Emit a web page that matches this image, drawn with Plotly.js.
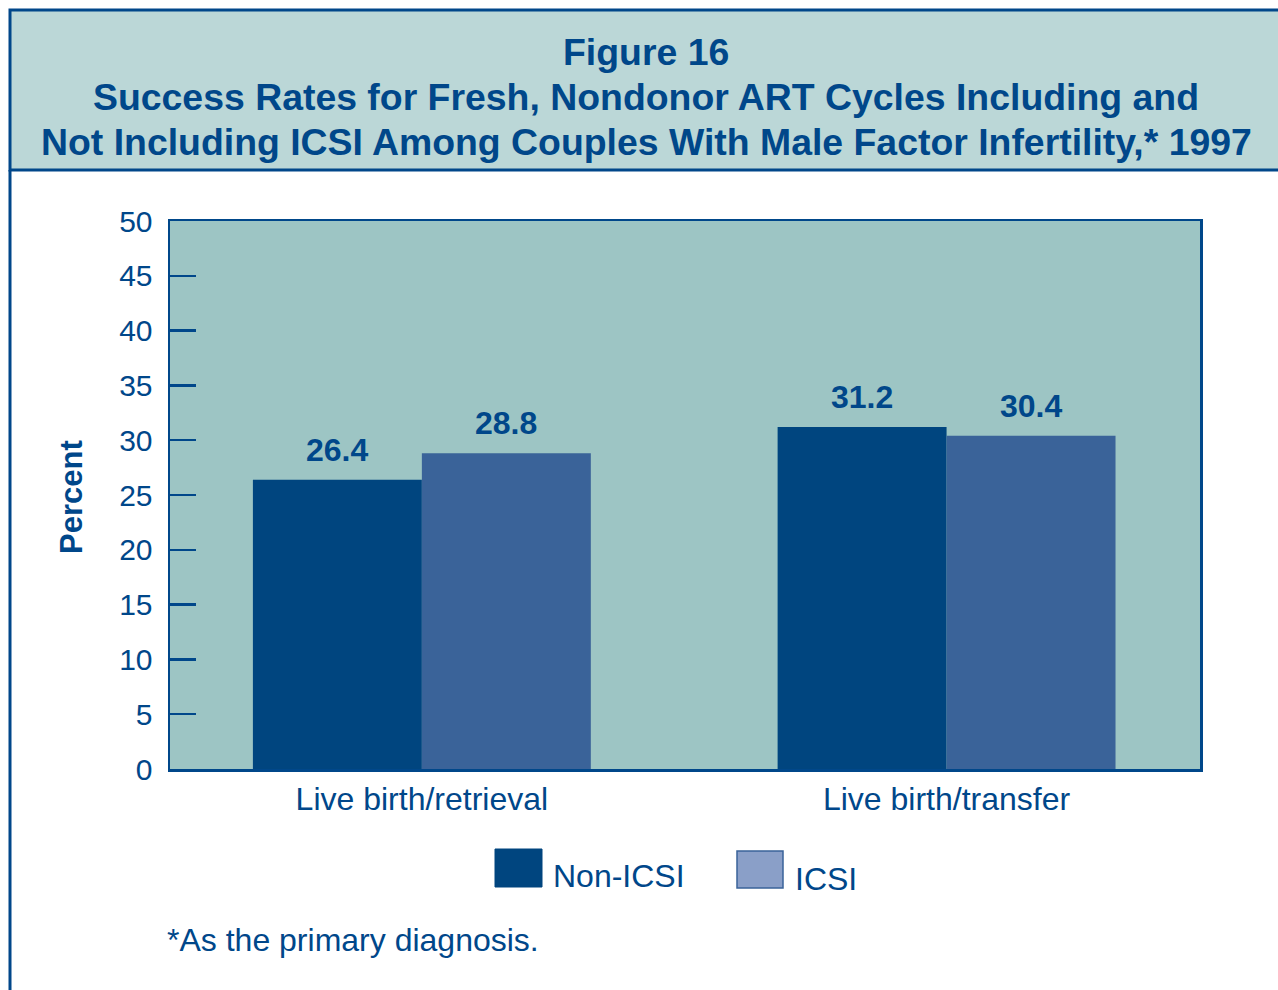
<!DOCTYPE html>
<html>
<head>
<meta charset="utf-8">
<script src="https://cdn.plot.ly/plotly-3.0.1.min.js"></script>
<style>html,body{margin:0;padding:0;background:#fff;}#chart{width:1278px;height:990px;}</style>
</head>
<body>
<div id="chart"></div>
<script>
const categories = ["Live birth/retrieval", "Live birth/transfer"];
const seriesNames = ["Non-ICSI", "ICSI"];
const nonIcsi = [26.4, 31.2];
const icsi = [28.8, 30.4];
const yTicks = [0, 5, 10, 15, 20, 25, 30, 35, 40, 45, 50];
const titleLines = ["Figure 16", "Success Rates for Fresh, Nondonor ART Cycles Including and", "Not Including ICSI Among Couples With Male Factor Infertility,* 1997"];
const footnote = "*As the primary diagnosis.";
const yTitle = "Percent";

const TXT = "#00478a";
const FONT = "Liberation Sans, Arial, sans-serif";
const barColors = ["#00457f", "#3a6399"];
const legendColors = ["#00457f", "#8a9fc8"];

// plot area geometry in px
const L = 170, R = 78, T = 221, B = 221, W = 1278, H = 990;
const pw = W - L - R, ph = H - T - B;
const px = v => (v - L) / pw;
const py = v => (H - B - v) / ph;

const series = [nonIcsi, icsi];
const traces = series.map((vals, k) => ({
  type: "bar",
  name: seriesNames[k],
  x: categories,
  y: vals,
  marker: {color: barColors[k], line: {width: 0}},
  showlegend: false,
  hoverinfo: "skip"
}));

const barOffset = 0.161;
const annotations = [];
series.forEach((vals, k) => {
  vals.forEach((v, i) => {
    annotations.push({
      xref: "x", yref: "y", x: i + (k === 0 ? -barOffset : barOffset), y: v,
      text: "<b>" + v.toFixed(1) + "</b>", showarrow: false,
      yanchor: "bottom", yshift: 10,
      font: {family: FONT, size: 32, color: TXT}
    });
  });
});

// title lines
const titleY = [52, 97, 142];
titleLines.forEach((t, i) => {
  annotations.push({
    xref: "paper", yref: "paper", x: px(646), y: py(titleY[i]),
    text: "<b>" + t + "</b>", showarrow: false, xanchor: "center", yanchor: "middle",
    font: {family: FONT, size: 37.4, color: TXT}
  });
});

annotations.push({
  xref: "paper", yref: "paper", x: px(72), y: py(497), textangle: -90,
  text: "<b>" + yTitle + "</b>", showarrow: false, xanchor: "center", yanchor: "middle",
  font: {family: FONT, size: 31, color: TXT}
});

// legend text
const legendText = [{x: 551, y: 876}, {x: 793, y: 879}];
seriesNames.forEach((n, k) => {
  annotations.push({
    xref: "paper", yref: "paper", x: px(legendText[k].x), y: py(legendText[k].y),
    text: n, showarrow: false, xanchor: "left", yanchor: "middle",
    font: {family: FONT, size: 32, color: TXT}
  });
});

annotations.push({
  xref: "paper", yref: "paper", x: px(165), y: py(940),
  text: footnote, showarrow: false, xanchor: "left", yanchor: "middle",
  font: {family: FONT, size: 32, color: TXT}
});

const shapes = [
  // title box
  {type: "rect", xref: "paper", yref: "paper", x0: px(10), x1: px(1290), y0: py(170), y1: py(10),
   fillcolor: "#bbd7d7", line: {color: "#00478a", width: 3}, layer: "below"},
  // left border continuing down
  {type: "line", xref: "paper", yref: "paper", x0: px(10), x1: px(10), y0: py(170), y1: py(1000),
   line: {color: "#00478a", width: 3}},
  // legend swatches
  {type: "rect", xref: "paper", yref: "paper", x0: px(495), x1: px(542), y0: py(887), y1: py(849),
   fillcolor: legendColors[0], line: {color: "#00457f", width: 1}},
  {type: "rect", xref: "paper", yref: "paper", x0: px(737), x1: px(783), y0: py(888), y1: py(851),
   fillcolor: legendColors[1], line: {color: "#3a6399", width: 1.5}}
];

const layout = {
  width: W, height: H,
  margin: {l: L, r: R, t: T, b: B, pad: 0},
  paper_bgcolor: "#ffffff",
  plot_bgcolor: "#9dc5c4",
  barmode: "group",
  bargap: 0.356,
  bargroupgap: 0,
  xaxis: {
    type: "category",
    range: [-0.48, 1.483],
    showline: true, mirror: true, linecolor: "#00478a", linewidth: 2.5,
    ticks: "", showgrid: false, zeroline: false,
    tickfont: {family: FONT, size: 32, color: TXT},
    ticklabelstandoff: 0
  },
  yaxis: {
    range: [0, 50],
    tickvals: yTicks,
    ticktext: yTicks.map(String),
    showline: true, mirror: true, linecolor: "#00478a", linewidth: 2.5,
    ticks: "inside", ticklen: 26, tickwidth: 2.5, tickcolor: "#00478a",
    showgrid: false, zeroline: false,
    tickfont: {family: FONT, size: 30, color: TXT},
    ticklabelstandoff: 9
  },
  annotations: annotations,
  shapes: shapes
};

Plotly.newPlot("chart", traces, layout, {staticPlot: true, displayModeBar: false});
</script>
</body>
</html>
